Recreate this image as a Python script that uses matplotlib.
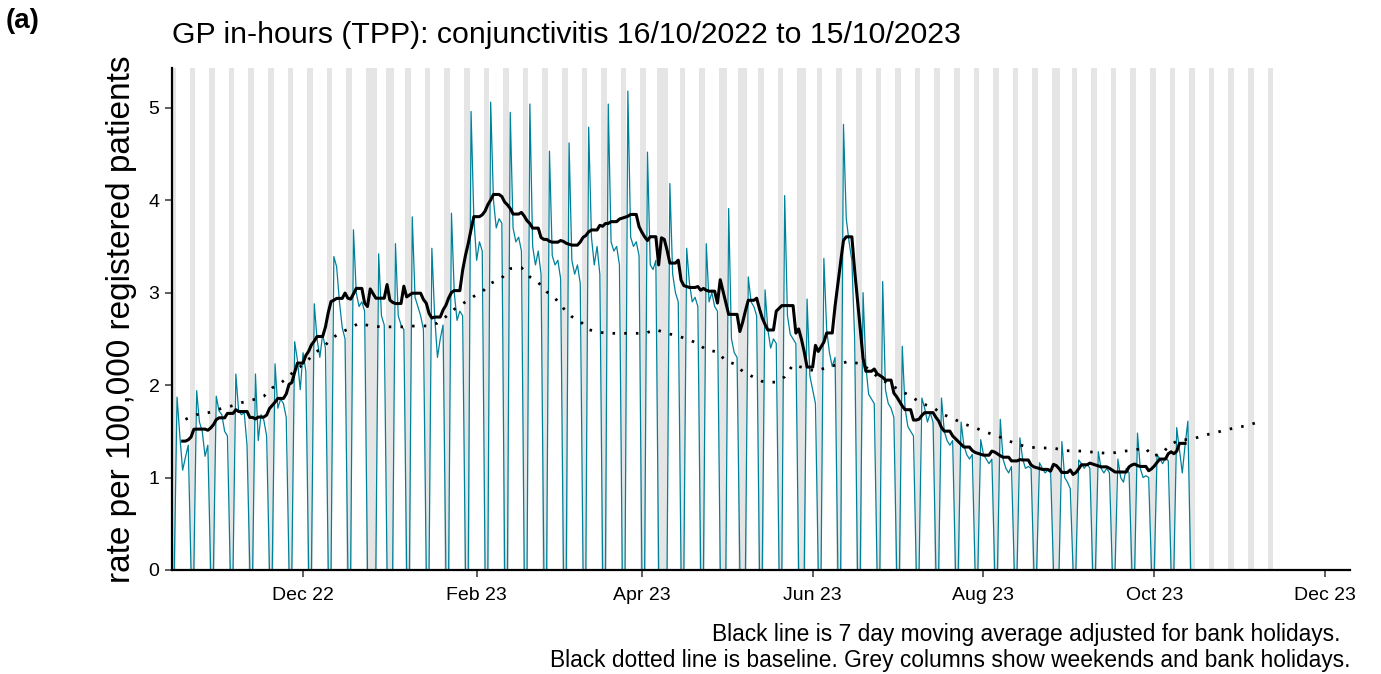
import numpy as np
import pandas as pd
import matplotlib
matplotlib.use("Agg")
import matplotlib.pyplot as plt
import matplotlib.dates as mdates

plt.rcParams['font.family'] = ['Liberation Sans', 'DejaVu Sans']

# ---------------- data ----------------
start_date = "2022-10-16"          # first day (Sunday)
first_day_rate = [0.0]             # Sunday 16/10/2022
# daily rate per 100,000, one row per week, Mon..Sun (weeks starting 17/10/2022)
weekly_rates = [
    [1.87, 1.45, 1.08, 1.22, 1.35, 0, 0],
    [1.94, 1.60, 1.50, 1.23, 1.35, 0, 0],
    [1.88, 1.72, 1.68, 1.50, 1.45, 0, 0],
    [2.12, 1.72, 1.68, 1.70, 1.35, 0, 0],
    [2.12, 1.40, 1.68, 1.62, 1.45, 0, 0],
    [2.23, 1.75, 1.85, 1.80, 1.65, 0, 0],
    [2.47, 2.27, 1.95, 2.35, 2.15, 0, 0],
    [2.88, 2.50, 2.30, 2.55, 2.40, 0, 0],
    [3.39, 3.28, 2.90, 2.62, 2.50, 0, 0],
    [3.68, 3.00, 2.85, 2.90, 2.80, 0, 0],
    [0.00, 0.00, 3.42, 2.75, 2.65, 0, 0],
    [0.00, 3.53, 2.75, 2.65, 2.60, 0, 0],
    [3.82, 2.95, 2.85, 2.75, 2.60, 0, 0],
    [3.48, 2.75, 2.30, 2.50, 2.65, 0, 0],
    [3.86, 3.00, 2.70, 2.80, 2.75, 0, 0],
    [4.96, 3.80, 3.35, 3.55, 3.45, 0, 0],
    [5.06, 4.00, 3.70, 3.80, 3.75, 0, 0],
    [4.95, 3.70, 3.55, 3.60, 3.45, 0, 0],
    [5.04, 3.50, 3.30, 3.45, 3.20, 0, 0],
    [4.53, 3.40, 3.30, 3.35, 3.15, 0, 0],
    [4.62, 3.35, 3.20, 3.30, 3.10, 0, 0],
    [4.79, 3.60, 3.30, 3.50, 3.20, 0, 0],
    [5.04, 3.55, 3.45, 3.50, 3.30, 0, 0],
    [5.18, 3.60, 3.50, 3.55, 3.40, 0, 0],
    [4.52, 3.30, 3.25, 3.35, 0.00, 0, 0],
    [0.00, 4.18, 3.20, 3.00, 2.90, 0, 0],
    [3.48, 3.10, 2.90, 2.95, 2.85, 0, 0],
    [3.53, 2.90, 3.00, 2.85, 2.80, 0, 0],
    [0.00, 3.91, 2.50, 2.35, 2.30, 0, 0],
    [0.00, 3.17, 2.90, 2.85, 2.75, 0, 0],
    [3.03, 2.60, 2.40, 2.50, 2.45, 0, 0],
    [4.05, 2.75, 2.55, 2.50, 2.45, 0, 0],
    [0.00, 2.93, 2.10, 1.95, 1.80, 0, 0],
    [3.37, 2.60, 2.35, 2.20, 2.30, 0, 0],
    [4.82, 3.80, 3.55, 3.35, 2.50, 0, 0],
    [3.00, 2.20, 1.90, 1.85, 1.80, 0, 0],
    [3.12, 1.95, 1.80, 1.75, 1.65, 0, 0],
    [2.42, 1.75, 1.55, 1.50, 1.45, 0, 0],
    [1.86, 1.75, 1.60, 1.70, 1.60, 0, 0],
    [1.86, 1.50, 1.40, 1.35, 1.40, 0, 0],
    [1.60, 1.35, 1.25, 1.20, 1.25, 0, 0],
    [1.41, 1.25, 1.20, 1.15, 1.20, 0, 0],
    [1.63, 1.20, 1.10, 1.05, 1.12, 0, 0],
    [1.43, 1.20, 1.10, 1.12, 1.10, 0, 0],
    [1.16, 1.10, 1.05, 1.08, 1.05, 0, 0],
    [0.00, 1.39, 1.00, 0.95, 0.88, 0, 0],
    [1.19, 1.15, 1.10, 1.15, 1.10, 0, 0],
    [1.28, 1.10, 1.05, 1.10, 1.05, 0, 0],
    [1.20, 1.00, 0.95, 1.10, 1.05, 0, 0],
    [1.48, 1.10, 1.00, 1.02, 1.00, 0, 0],
    [1.25, 1.20, 1.15, 1.22, 1.18, 0, 0],
    [1.54, 1.30, 1.05, 1.35, 1.61, 0, 0],
]
bank_holidays = ["2022-12-26", "2022-12-27", "2023-01-02", "2023-04-07", "2023-04-10",
                 "2023-05-01", "2023-05-08", "2023-05-29", "2023-08-28"]
grey_end_date = "2023-11-12"

# baseline: days since start_date and value
baseline_day = [4, 8, 12, 16, 20, 24, 28, 32, 35, 38, 41, 44, 47, 50, 53, 56, 59, 63, 66, 70,
                74, 78, 82, 86, 90, 94, 97, 100, 103, 107, 110, 113, 117, 120, 124, 127, 130,
                133, 136, 139, 142, 145, 148, 152, 156, 160, 165, 168, 172, 176, 180, 183, 187,
                190, 194, 197, 200, 203, 206, 210, 215, 218, 221, 229, 234, 238, 241, 246, 252,
                260, 263, 267, 271, 274, 278, 282, 286, 289, 294, 297, 301, 305, 309, 314, 318,
                322, 326, 330, 334, 338, 343, 347, 349, 353, 355, 359, 363, 367, 371, 375, 379,
                383, 387]
baseline_value = [1.63, 1.68, 1.70, 1.74, 1.77, 1.81, 1.84, 1.88, 1.97, 2.02, 2.10, 2.18, 2.24,
                  2.35, 2.40, 2.50, 2.56, 2.62, 2.67, 2.64, 2.63, 2.63, 2.63, 2.64, 2.64, 2.67,
                  2.74, 2.82, 2.88, 2.96, 3.01, 3.10, 3.16, 3.26, 3.27, 3.17, 3.11, 3.01, 2.94,
                  2.83, 2.74, 2.69, 2.60, 2.57, 2.56, 2.56, 2.56, 2.56, 2.60, 2.56, 2.53, 2.50,
                  2.45, 2.38, 2.36, 2.26, 2.23, 2.15, 2.10, 2.04, 2.03, 2.09, 2.22, 2.15, 2.20,
                  2.23, 2.26, 2.22, 2.07, 1.93, 1.88, 1.80, 1.76, 1.69, 1.64, 1.58, 1.54, 1.50,
                  1.45, 1.41, 1.36, 1.33, 1.32, 1.32, 1.29, 1.29, 1.28, 1.27, 1.26, 1.28, 1.30,
                  1.32, 1.23, 1.26, 1.34, 1.41, 1.41, 1.45, 1.48, 1.51, 1.54, 1.56, 1.60]

title = "GP in-hours (TPP): conjunctivitis 16/10/2022 to 15/10/2023"
ylabel = "rate per 100,000 registered patients"
caption_line1 = "Black line is 7 day moving average adjusted for bank holidays."
caption_line2 = "Black dotted line is baseline. Grey columns show weekends and bank holidays."
panel_label = "(a)"

# ---------------- build series ----------------
rates = np.array(first_day_rate + [v for wk in weekly_rates for v in wk])
dates = pd.date_range(start_date, periods=len(rates), freq="D")
bh = pd.to_datetime(bank_holidays)
working = (dates.weekday < 5) & (~dates.isin(bh))
s = pd.Series(rates, index=dates)
w = pd.Series(working.astype(float), index=dates)
ma = s.rolling(7, center=True).sum() / w.rolling(7, center=True).sum()

base_dates = pd.Timestamp(start_date) + pd.to_timedelta(baseline_day, unit="D")

# ---------------- figure ----------------
W, H = 1381, 674
fig = plt.figure(figsize=(W / 100, H / 100), dpi=100)
ax = fig.add_axes([172 / W, 1 - 570 / H, (1350 - 172) / W, (570 - 68) / H])

# grey columns
all_days = pd.date_range(start_date, grey_end_date, freq="D")
is_grey = (all_days.weekday >= 5) | all_days.isin(bh)
run_start = None
for i, d in enumerate(all_days):
    if is_grey[i] and run_start is None:
        run_start = d
    last = (i == len(all_days) - 1)
    if run_start is not None and (not is_grey[i] or last):
        end = d if (is_grey[i] and last) else all_days[i - 1]
        ax.axvspan(mdates.date2num(run_start) - 0.5, mdates.date2num(end) + 0.5,
                   color="#e5e5e5", lw=0, zorder=0)
        run_start = None

ax.plot(dates, rates, color="#00819a", lw=0.9, zorder=2)
ax.plot(base_dates, baseline_value, color="black", lw=2.0,
        linestyle=(0, (0.9, 3.3)), zorder=3)
ax.plot(ma.index, ma.values, color="black", lw=2.2, zorder=4)

ax.set_xlim(mdates.date2num(pd.Timestamp("2022-10-16")) - 0.8,
            mdates.date2num(pd.Timestamp("2023-12-09")) + 0.9)
ax.set_ylim(0, 5.43)
ax.set_yticks([0, 1, 2, 3, 4, 5])
ax.xaxis.set_major_locator(mdates.MonthLocator(bymonth=[12, 2, 4, 6, 8, 10]))
ax.xaxis.set_major_formatter(mdates.DateFormatter("%b %y"))

for sp in ["top", "right"]:
    ax.spines[sp].set_visible(False)
for sp in ["left", "bottom"]:
    ax.spines[sp].set_linewidth(1.6)
    ax.spines[sp].set_color("black")
ax.tick_params(axis="both", length=5, width=1.1, color="#333333",
               labelsize=14, labelcolor="black")
ax.tick_params(axis="x", pad=7)
ax.tick_params(axis="y", pad=4)

ax.set_ylabel(ylabel, fontsize=24, labelpad=8)
fig.text(172 / W, 1 - 35 / H, title, fontsize=21.8, ha="left", va="center")
fig.text(6 / W, 1 - 21 / H, panel_label, fontsize=20, fontweight="bold", ha="left", va="center")
fig.text(1340 / W, 1 - 634 / H, caption_line1, fontsize=16.4, ha="right", va="center")
fig.text(1350 / W, 1 - 660 / H, caption_line2, fontsize=16.4, ha="right", va="center")

fig.savefig("out.png", dpi=100)
